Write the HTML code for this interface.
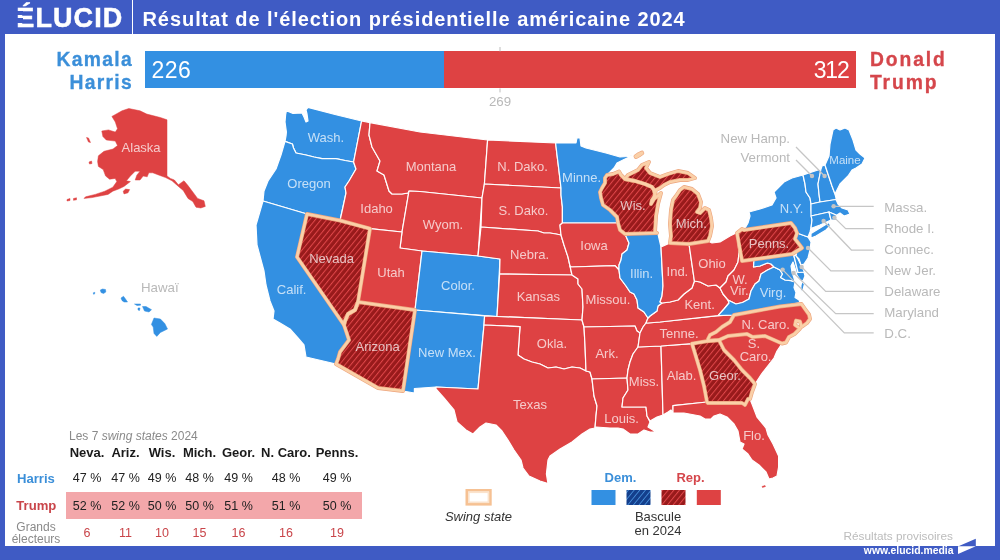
<!DOCTYPE html>
<html lang="fr"><head><meta charset="utf-8"><title>Résultat de l'élection présidentielle américaine 2024</title>
<style>
html,body{margin:0;padding:0}
body{width:1000px;height:560px;position:relative;overflow:hidden;background:#3f5bc4;font-family:"Liberation Sans",sans-serif;}
.panel{position:absolute;left:5px;top:34px;width:990px;height:512px;background:#fff}
.abs{position:absolute;white-space:nowrap;line-height:1}
.logo{left:16.3px;top:2.6px;font-size:27px;font-weight:bold;color:#fff;letter-spacing:1.1px;line-height:30px;-webkit-text-stroke:.5px #fff}
.divider{position:absolute;left:131.5px;top:0;width:1.2px;height:34px;background:#fff}
.title{left:142.5px;top:7.5px;font-size:20px;font-weight:bold;color:#fff;line-height:22px;letter-spacing:.93px}
.cand{font-size:19.3px;font-weight:bold;letter-spacing:1.3px;line-height:23.2px;-webkit-text-stroke:.3px currentColor}
.bar{position:absolute;top:51.4px;height:37px}
.num{font-size:23px;color:#fff;line-height:37px}
svg{position:absolute;left:0;top:0}
.sl{font-size:13px;fill:#fff;fill-opacity:.72;text-anchor:middle}
.gl{font-size:13.3px;fill:#b9b9b9}
.tb{font-size:12.5px;color:#222}
.th{font-weight:bold;font-size:13px;color:#1a1a1a}
.ge{color:#c9454a}
</style></head><body>
<div class="panel"></div>
<div class="abs logo">ÉLUCID</div><div class="divider"></div><div style="position:absolute;left:15px;top:11px;width:8.4px;height:4px;background:#3f5bc4"></div><div style="position:absolute;left:15px;top:18px;width:8.4px;height:5px;background:#3f5bc4"></div>
<div class="abs title">Résultat de l'élection présidentielle américaine 2024</div>
<div class="abs cand" style="right:867px;top:48.2px;text-align:right;color:#3b8fd9">Kamala<br>Harris</div>
<div class="abs cand" style="left:870px;top:48.2px;color:#d5464b;letter-spacing:1.9px">Donald<br>Trump</div>
<div class="bar" style="left:145px;width:298.5px;background:#3390e2"></div>
<div class="bar" style="left:443.5px;width:412px;background:#de4243"></div>
<div class="abs num" style="left:151.5px;top:51.8px;letter-spacing:.5px">226</div>
<div class="abs num" style="right:151.5px;top:51.8px;letter-spacing:-1.2px">312</div>

<svg width="1000" height="560" viewBox="0 0 1000 560" font-family="Liberation Sans, sans-serif">
<defs>
<pattern id="hr" width="4.4" height="4.4" patternUnits="userSpaceOnUse" patternTransform="rotate(39)"><rect width="4.4" height="4.4" fill="#981a1b"/><rect x="0" width="1" height="4.4" fill="#e0474a"/></pattern>
<pattern id="hb" width="4.4" height="4.4" patternUnits="userSpaceOnUse" patternTransform="rotate(39)"><rect width="4.4" height="4.4" fill="#143f8c"/><rect x="0" width="0.8" height="4.4" fill="#4a94e0"/></pattern>
</defs>
<path d="M500 47V51.4M500 88.4V92.4" stroke="#bdbdbd" stroke-width="1"/>
<text x="500" y="105.6" text-anchor="middle" class="gl" fill="#b5b5b5">269</text>
<g stroke="#fff" stroke-width="1.2" stroke-linejoin="round">
<polygon points="286.4,110.6 293.0,113.5 302.0,113.0 304.0,117.0 306.0,122.0 308.0,121.0 307.0,114.0 306.0,110.0 308.0,107.4 335.0,114.5 361.6,121.0 353.6,162.0 345.0,160.5 336.0,158.6 322.0,158.6 314.0,157.0 306.0,155.0 296.0,153.0 293.5,148.0 292.4,144.0 285.0,141.4 286.0,136.0 286.4,132.0 285.0,122.0 285.6,115.0" fill="#3390e2"/>
<polygon points="285.0,141.4 292.4,144.0 293.5,148.0 296.0,153.0 306.0,155.0 314.0,157.0 322.0,158.6 336.0,158.6 345.0,160.5 353.6,162.0 356.0,169.0 349.0,181.0 345.0,187.0 346.0,193.0 343.0,207.0 340.0,220.5 307.0,214.0 263.0,201.0 264.0,191.0 268.0,181.0 276.0,169.0 281.0,155.0" fill="#3390e2"/>
<polygon points="263.0,201.0 307.0,214.0 297.0,257.0 344.0,325.0 349.0,340.0 340.0,352.0 338.0,359.0 336.0,364.0 306.0,357.0 304.0,345.0 298.0,338.0 290.0,329.0 280.0,323.0 273.0,319.0 274.0,311.0 270.0,301.0 266.0,285.0 264.0,271.0 257.0,245.0 256.0,225.0" fill="#3390e2"/>
<polygon points="361.6,121.0 370.0,122.6 369.0,135.0 372.0,147.0 380.0,161.0 377.0,171.0 384.0,175.0 389.0,191.0 392.0,194.0 402.0,194.0 408.0,193.0 409.0,191.0 402.0,232.0 370.0,228.6 340.0,220.5 343.0,207.0 346.0,193.0 345.0,187.0 349.0,181.0 356.0,169.0 353.6,162.0" fill="#de4243"/>
<polygon points="370.0,122.6 420.0,132.0 487.6,140.0 484.4,184.0 482.0,198.0 420.0,191.5 409.0,191.0 408.0,193.0 402.0,194.0 392.0,194.0 389.0,191.0 384.0,175.0 377.0,171.0 380.0,161.0 372.0,147.0 369.0,135.0" fill="#de4243"/>
<polygon points="409.0,191.0 420.0,191.5 482.0,198.0 478.0,256.0 422.0,251.0 400.0,248.0 402.0,232.0" fill="#de4243"/>
<polygon points="370.0,228.6 402.0,232.0 400.0,248.0 422.0,251.0 415.0,310.0 358.0,302.0" fill="#de4243"/>
<polygon points="422.0,251.0 478.0,256.0 500.0,259.0 497.0,316.5 415.0,310.0" fill="#3390e2"/>
<polygon points="415.0,310.0 484.6,315.8 484.0,325.0 478.0,389.0 436.0,387.0 414.4,388.5 414.4,393.0 403.0,391.0" fill="#3390e2"/>
<polygon points="487.6,140.0 555.6,143.0 557.0,155.0 559.0,171.0 561.0,188.0 484.4,184.0" fill="#de4243"/>
<polygon points="484.4,184.0 561.0,188.0 561.0,195.0 562.4,207.0 562.4,223.0 560.0,225.0 561.0,235.0 556.0,234.0 550.0,233.0 544.0,233.0 538.0,231.0 481.0,227.0 482.0,198.0" fill="#de4243"/>
<polygon points="481.0,227.0 538.0,231.0 544.0,233.0 550.0,233.0 556.0,234.0 561.0,235.0 564.0,245.0 568.0,257.0 570.0,266.0 572.0,275.0 499.6,274.0 500.0,259.0 478.0,256.0" fill="#de4243"/>
<polygon points="499.6,274.0 572.0,275.0 578.0,279.0 578.0,284.0 582.0,289.0 583.0,307.0 582.0,320.0 497.0,316.5" fill="#de4243"/>
<polygon points="484.6,315.8 497.0,316.5 582.0,320.0 584.0,327.0 585.0,345.0 586.0,371.0 580.0,368.0 572.0,367.0 564.0,369.0 556.0,367.0 548.0,368.0 540.0,364.0 532.0,362.0 524.0,359.0 518.0,355.0 520.0,326.6 484.0,325.0" fill="#de4243"/>
<polygon points="484.0,325.0 520.0,326.6 518.0,355.0 524.0,359.0 532.0,362.0 540.0,364.0 548.0,368.0 556.0,367.0 564.0,369.0 572.0,367.0 580.0,368.0 586.0,371.0 590.0,372.0 592.0,379.0 594.0,396.0 597.0,406.0 596.0,416.0 595.0,428.0 590.0,429.0 582.0,434.0 572.0,442.0 560.0,449.0 550.0,456.0 548.0,460.0 546.4,474.0 548.0,483.6 540.0,481.0 529.0,476.0 523.0,468.0 521.0,460.0 514.0,450.0 508.0,440.0 502.0,431.0 496.0,425.0 486.0,423.0 480.0,427.0 473.0,434.0 466.0,430.0 457.0,422.0 454.0,410.0 444.0,398.0 436.0,389.0 436.0,387.0 478.0,389.0" fill="#de4243"/>
<polygon points="555.6,143.0 576.0,143.0 577.0,138.0 580.0,138.0 581.0,146.0 586.0,148.0 594.0,150.0 606.0,153.0 620.0,157.0 627.0,156.5 632.5,155.6 624.0,159.5 617.0,163.0 614.0,168.0 610.0,172.0 607.0,175.0 605.0,178.0 605.0,183.0 602.0,188.0 600.0,192.0 601.0,198.0 603.0,205.0 610.0,210.0 617.0,217.0 618.0,223.0 562.4,223.0 562.4,207.0 561.0,195.0 561.0,188.0 559.0,171.0 557.0,155.0" fill="#3390e2"/>
<polygon points="562.4,223.0 618.0,223.0 620.0,230.0 625.0,234.0 629.0,243.0 627.0,250.0 622.0,254.0 621.0,260.0 619.0,265.0 619.0,270.0 615.0,265.6 571.0,267.0 570.0,266.0 568.0,257.0 564.0,245.0 561.0,235.0 560.0,225.0" fill="#de4243"/>
<polygon points="571.0,267.0 615.0,265.6 619.0,270.0 620.0,278.0 626.0,286.0 630.0,292.0 634.0,294.0 637.0,300.0 638.0,308.0 644.0,312.0 648.0,318.0 646.0,323.0 643.0,327.0 640.0,333.0 637.0,331.0 635.0,326.0 584.0,327.0 582.0,320.0 583.0,307.0 582.0,289.0 578.0,284.0 578.0,279.0 572.0,275.0 570.0,266.0" fill="#de4243"/>
<polygon points="584.0,327.0 635.0,326.0 637.0,331.0 640.0,333.0 639.0,340.0 638.0,347.0 633.0,354.0 630.0,362.0 628.0,370.0 627.0,378.0 592.0,379.0 590.0,372.0 586.0,371.0 585.0,345.0" fill="#de4243"/>
<polygon points="592.0,379.0 627.0,378.0 628.0,390.0 623.0,398.0 622.0,407.0 646.0,407.0 647.0,416.0 650.0,422.0 648.0,427.0 656.0,432.0 650.0,432.0 644.0,430.0 638.0,434.0 630.0,434.0 623.0,429.0 618.0,428.0 610.0,428.0 596.0,427.0 595.0,428.0 596.0,416.0 597.0,406.0 594.0,396.0" fill="#de4243"/>
<polygon points="638.0,347.0 661.0,346.0 663.0,415.0 657.0,417.0 650.0,421.0 647.0,416.0 646.0,407.0 622.0,407.0 623.0,398.0 628.0,390.0 627.0,378.0 628.0,370.0 630.0,362.0 633.0,354.0" fill="#de4243"/>
<polygon points="661.0,346.0 692.0,343.6 700.0,370.0 704.0,386.0 707.0,402.0 673.0,405.6 673.0,413.0 671.0,410.0 668.0,412.0 663.0,415.0" fill="#de4243"/>
<polygon points="673.0,405.6 707.0,402.0 708.0,403.0 742.0,403.0 745.0,405.0 748.0,399.0 750.0,399.0 752.0,404.0 757.0,417.0 766.0,428.0 768.0,435.0 773.0,444.0 778.6,456.0 778.6,467.0 777.0,476.0 773.0,478.0 769.0,479.0 766.0,472.0 759.0,465.0 752.0,460.0 748.0,454.0 742.0,449.0 744.0,444.0 740.0,442.0 738.0,431.0 734.0,424.0 727.0,417.0 720.0,414.0 714.0,416.0 711.0,419.0 705.0,419.0 700.0,416.0 684.0,413.0 673.0,413.0" fill="#de4243"/>
<polygon points="643.0,327.0 646.0,323.0 648.0,323.0 660.0,322.0 718.0,315.6 734.0,315.0 730.0,322.0 722.0,327.0 716.0,332.0 710.0,335.0 708.0,339.0 708.0,341.0 692.0,343.6 661.0,346.0 638.0,347.0 639.0,340.0 640.0,333.0" fill="#de4243"/>
<polygon points="648.0,318.0 650.0,316.0 657.0,311.0 658.0,306.0 662.0,303.0 670.0,302.0 678.0,300.0 684.0,294.0 692.0,288.0 694.4,281.0 700.0,282.0 708.0,286.0 716.0,285.0 720.0,288.0 723.0,294.0 728.0,300.0 729.0,303.0 724.0,309.0 718.0,315.6 660.0,322.0 648.0,323.0 646.0,323.0" fill="#de4243"/>
<polygon points="625.0,234.0 657.0,233.0 658.0,234.0 661.0,247.0 663.0,286.0 662.0,296.0 660.0,302.0 662.0,303.0 658.0,306.0 657.0,311.0 650.0,316.0 648.0,318.0 644.0,312.0 638.0,308.0 637.0,300.0 634.0,294.0 630.0,292.0 626.0,286.0 620.0,278.0 619.0,270.0 619.0,265.0 621.0,260.0 622.0,254.0 627.0,250.0 629.0,243.0" fill="#3390e2"/>
<polygon points="661.0,247.0 670.0,243.0 689.0,244.0 694.4,281.0 692.0,288.0 684.0,294.0 678.0,300.0 670.0,302.0 662.0,303.0 660.0,302.0 662.0,296.0 663.0,286.0" fill="#de4243"/>
<polygon points="689.0,244.0 708.0,241.0 712.0,243.0 720.0,242.0 730.0,236.0 736.0,233.0 737.0,233.0 739.0,253.0 738.0,262.0 734.0,270.0 728.0,276.0 726.0,282.0 720.0,288.0 716.0,285.0 708.0,286.0 700.0,282.0 694.4,281.0" fill="#de4243"/>
<polygon points="739.0,253.0 742.0,261.0 754.0,260.0 753.5,267.0 760.0,266.0 767.5,263.0 771.0,264.0 774.0,267.0 767.5,270.0 761.0,274.0 759.0,281.0 755.0,284.0 751.0,291.0 749.0,299.0 742.5,302.5 736.0,304.0 730.0,301.0 728.0,300.0 723.0,294.0 720.0,288.0 726.0,282.0 728.0,276.0 734.0,270.0 738.0,262.0" fill="#de4243"/>
<polygon points="774.0,267.0 780.0,270.0 782.5,274.0 780.6,277.5 785.0,280.0 791.0,280.6 795.0,282.0 794.0,287.5 796.0,292.5 795.0,297.5 799.0,300.0 800.0,302.5 780.0,306.5 734.0,315.0 718.0,315.6 724.0,309.0 729.0,303.0 728.0,300.0 730.0,301.0 736.0,304.0 742.5,302.5 749.0,299.0 751.0,291.0 755.0,284.0 759.0,281.0 761.0,274.0 767.5,270.0" fill="#3390e2"/>
<polygon points="802.0,281.5 804.5,284.0 803.0,290.0 800.6,291.5 801.0,285.0" fill="#3390e2"/>
<polygon points="754.0,260.0 792.0,254.0 794.0,256.0 798.0,272.5 804.0,272.0 805.0,276.0 803.0,281.0 800.0,280.0 797.0,275.0 795.0,268.0 793.0,262.0 791.0,266.0 792.0,272.0 794.0,278.0 795.0,282.0 791.0,280.6 785.0,280.0 780.6,277.5 782.5,274.0 780.0,270.0 774.0,267.0 771.0,264.0 767.5,263.0 760.0,266.0 753.5,267.0" fill="#3390e2"/>
<polygon points="794.0,256.0 796.0,255.0 798.0,259.0 801.0,265.0 804.0,271.0 804.0,272.0 798.0,272.5" fill="#3390e2"/>
<polygon points="797.0,233.0 808.0,237.0 811.0,242.0 810.0,250.0 808.0,258.0 804.0,264.0 801.0,265.0 799.0,259.0 796.0,256.0 797.0,251.0 802.0,248.0 799.0,244.0 795.0,239.0" fill="#3390e2"/>
<polygon points="744.0,230.0 748.0,223.0 750.0,216.0 749.0,212.0 760.0,209.0 772.0,205.0 776.0,198.0 774.0,192.0 778.0,188.0 784.0,182.0 792.0,178.0 803.0,175.0 805.0,184.0 806.0,192.0 810.0,198.0 811.0,204.0 811.0,210.0 812.0,220.0 811.0,228.0 810.0,232.0 808.0,237.0 797.0,233.0 795.0,228.0 791.0,223.0" fill="#3390e2"/>
<polygon points="811.0,233.5 820.0,228.0 829.0,222.5 830.5,225.5 826.0,230.0 816.0,236.0 811.0,238.0" fill="#3390e2"/>
<polygon points="803.0,175.0 821.0,169.0 820.0,174.0 818.0,184.0 819.0,194.0 820.0,202.0 811.0,204.0 810.0,198.0 806.0,192.0 805.0,184.0" fill="#3390e2"/>
<polygon points="821.0,169.0 822.0,166.0 825.0,165.0 828.0,174.0 832.0,186.0 835.0,194.0 836.0,198.0 836.0,199.5 820.0,202.0 819.0,194.0 818.0,184.0 820.0,174.0" fill="#3390e2"/>
<polygon points="825.0,165.0 829.0,156.0 830.0,144.0 833.0,130.0 836.0,128.0 840.0,130.0 845.0,128.0 849.0,130.0 853.0,140.0 856.0,150.0 860.0,154.0 865.0,158.0 862.0,164.0 856.0,168.0 852.0,170.0 848.0,176.0 844.0,180.0 840.0,184.0 837.0,190.0 835.0,194.0 832.0,186.0 828.0,174.0" fill="#3390e2"/>
<polygon points="811.0,204.0 820.0,202.0 836.0,199.5 838.0,204.0 842.0,208.0 848.0,210.0 850.0,214.0 844.0,216.0 840.0,213.0 837.0,215.0 836.0,215.0 829.0,212.0 811.0,216.0 811.0,210.0" fill="#3390e2"/>
<polygon points="811.0,216.0 829.0,212.0 831.0,220.0 820.0,225.0 812.0,228.0 811.0,228.0 812.0,220.0" fill="#3390e2"/>
<polygon points="829.0,212.0 836.0,215.0 837.0,220.0 831.0,220.0" fill="#3390e2"/>
<polygon points="719.0,340.0 728.0,336.0 747.0,334.0 752.5,337.0 765.0,336.0 782.0,343.5 777.0,351.0 774.0,358.0 768.5,365.0 761.5,374.0 757.0,381.0 755.0,384.0 750.0,378.0 742.0,370.0 734.0,360.0 724.0,350.0" fill="#de4243"/>
<polygon points="111.9,116.4 122.0,110.8 128.8,108.5 140.0,110.8 146.8,114.1 160.3,117.5 167.0,119.8 167.0,176.0 170.4,178.4 174.4,180.0 178.4,184.8 181.6,182.4 184.0,180.8 188.0,185.6 192.8,192.0 197.6,198.4 204.0,200.8 205.3,206.4 200.8,208.0 196.0,207.2 192.8,201.6 188.0,198.4 183.2,190.4 178.4,186.4 172.0,180.8 165.6,177.6 159.2,175.2 152.8,172.8 148.8,172.8 147.2,176.8 143.2,176.0 140.0,180.0 135.2,180.0 136.8,175.2 140.0,171.2 135.2,171.2 130.4,176.0 126.4,180.8 130.4,181.6 124.0,186.4 119.2,188.8 112.8,191.2 108.0,194.4 100.0,196.0 92.0,197.6 84.0,198.4 85.6,196.8 95.2,194.4 104.8,191.2 112.8,187.2 116.8,181.6 115.2,178.4 109.6,179.2 105.6,176.0 103.2,169.6 98.4,166.4 97.6,161.6 98.4,155.8 104.0,151.3 113.0,149.0 117.5,145.6 115.3,141.1 106.3,140.0 102.9,136.6 101.8,131.0 108.5,129.9 115.3,132.1 117.5,128.8 115.3,122.0" fill="#de4243" stroke="#de4243" stroke-width="0.5"/>
<polygon points="123.2,191.2 125.6,189.1 129.6,189.6 128.0,192.8 124.0,193.9" fill="#de4243" stroke="#de4243" stroke-width="0.5"/>
<polygon points="86.5,137.5 88.5,138.0 90.5,142.5 88.5,142.0" fill="#de4243" stroke="#de4243" stroke-width="0.5"/>
<polygon points="89.0,162.0 91.5,161.0 92.0,163.5 89.5,164.0" fill="#de4243" stroke="#de4243" stroke-width="0.5"/>
<polygon points="67.0,199.5 70.0,198.5 70.0,200.5 67.0,201.0" fill="#de4243" stroke="#de4243" stroke-width="0.5"/>
<polygon points="73.5,198.5 76.5,197.8 76.5,199.8 73.5,200.3" fill="#de4243" stroke="#de4243" stroke-width="0.5"/>
<polygon points="762.0,486.5 765.0,485.5 765.5,486.5 762.5,487.5" fill="#de4243" stroke="#de4243" stroke-width="0.5"/>
<polygon points="100.3,290.0 102.5,289.0 105.5,289.5 105.8,292.0 103.5,293.5 101.0,292.5" fill="#3390e2" stroke="#3390e2" stroke-width="0.5"/>
<polygon points="121.0,298.0 123.5,296.3 125.5,299.0 127.5,302.0 124.0,302.0 122.0,300.5" fill="#3390e2" stroke="#3390e2" stroke-width="0.5"/>
<polygon points="134.5,304.0 140.5,304.0 140.5,305.2 137.0,305.5" fill="#3390e2" stroke="#3390e2" stroke-width="0.5"/>
<polygon points="138.0,308.0 140.0,308.0 139.5,310.5 138.0,310.0" fill="#3390e2" stroke="#3390e2" stroke-width="0.5"/>
<polygon points="142.5,306.5 146.0,306.5 151.5,309.7 149.0,312.0 144.5,311.0" fill="#3390e2" stroke="#3390e2" stroke-width="0.5"/>
<polygon points="154.0,318.0 160.4,319.0 164.8,323.6 167.5,329.0 160.4,332.5 156.8,336.4 154.0,333.4 153.2,327.0 151.4,324.5" fill="#3390e2" stroke="#3390e2" stroke-width="0.5"/>
<polygon points="93.3,292.8 94.8,292.3 94.6,294.0 93.5,294.2" fill="#3390e2" stroke="#3390e2" stroke-width="0.5"/>
</g>
<g stroke="none">
<polygon points="307.0,214.0 340.0,220.5 370.0,228.6 358.0,302.0 355.0,310.0 348.0,314.0 345.0,321.0 344.0,325.0 297.0,257.0" fill="url(#hr)"/>
<polygon points="358.0,302.0 415.0,310.0 403.0,391.0 378.0,388.0 336.0,364.0 338.0,359.0 340.0,352.0 349.0,340.0 344.0,325.0 345.0,321.0 348.0,314.0 355.0,310.0" fill="url(#hr)"/>
<polygon points="607.0,175.0 613.0,174.0 619.0,171.5 621.0,175.0 625.0,179.0 635.0,181.0 645.0,184.0 652.0,187.0 654.0,190.0 655.0,194.0 654.0,197.0 652.0,200.0 651.0,204.0 654.0,199.0 661.0,193.0 658.0,204.0 656.0,216.0 655.0,232.0 657.0,233.0 625.0,234.0 620.0,230.0 618.0,223.0 617.0,217.0 610.0,210.0 603.0,205.0 601.0,198.0 600.0,192.0 602.0,188.0 605.0,183.0 605.0,178.0" fill="url(#hr)"/>
<polygon points="625.0,179.0 628.0,175.0 638.0,170.0 642.0,165.0 649.0,162.0 646.0,168.0 650.0,173.0 660.0,177.0 668.0,174.0 678.0,171.0 688.0,173.0 695.0,178.0 688.0,180.0 680.0,180.0 670.0,182.0 664.0,185.0 660.0,188.0 656.0,190.0 655.0,194.0 654.0,190.0 652.0,187.0 645.0,184.0 635.0,181.0" fill="url(#hr)"/>
<polygon points="684.0,187.0 680.0,190.0 676.0,196.0 673.0,200.0 671.0,210.0 670.0,224.0 671.0,236.0 670.0,243.0 689.0,244.0 708.0,241.0 710.0,236.0 712.0,226.0 711.0,218.0 709.0,210.0 705.0,208.0 700.0,213.0 697.0,212.0 700.0,208.0 701.0,202.0 698.0,194.0 692.0,189.0" fill="url(#hr)"/>
<polygon points="635.5,156.3 639.0,154.0 642.0,152.6 642.3,153.2 639.5,155.0 636.0,157.0" fill="url(#hr)"/>
<polygon points="737.0,233.0 742.0,229.0 744.0,230.0 791.0,223.0 795.0,228.0 797.0,233.0 795.0,239.0 799.0,244.0 802.0,248.0 797.0,251.0 792.0,254.0 742.0,261.0" fill="url(#hr)"/>
<polygon points="734.0,315.0 780.0,306.5 801.5,304.0 805.0,309.0 809.0,314.5 810.0,319.0 807.0,323.0 801.5,327.0 800.0,321.5 796.0,320.6 795.0,325.0 800.0,328.5 794.5,334.0 789.0,337.0 786.0,342.5 782.0,343.5 765.0,336.0 752.5,337.0 747.0,334.0 728.0,336.0 719.0,340.0 708.0,341.0 708.0,339.0 710.0,335.0 716.0,332.0 722.0,327.0 730.0,322.0" fill="#de4243"/>
<polygon points="692.0,343.6 708.0,341.0 719.0,340.0 724.0,350.0 734.0,360.0 742.0,370.0 750.0,378.0 755.0,384.0 752.0,392.0 750.0,399.0 748.0,399.0 745.0,405.0 742.0,403.0 708.0,403.0 707.0,402.0 704.0,386.0 700.0,370.0" fill="url(#hr)"/>
</g>
<g fill="none" stroke="#eda57e" stroke-width="3.9" stroke-linejoin="round">
<polygon points="307.0,214.0 340.0,220.5 370.0,228.6 358.0,302.0 355.0,310.0 348.0,314.0 345.0,321.0 344.0,325.0 297.0,257.0"/>
<polygon points="358.0,302.0 415.0,310.0 403.0,391.0 378.0,388.0 336.0,364.0 338.0,359.0 340.0,352.0 349.0,340.0 344.0,325.0 345.0,321.0 348.0,314.0 355.0,310.0"/>
<polygon points="607.0,175.0 613.0,174.0 619.0,171.5 621.0,175.0 625.0,179.0 635.0,181.0 645.0,184.0 652.0,187.0 654.0,190.0 655.0,194.0 654.0,197.0 652.0,200.0 651.0,204.0 654.0,199.0 661.0,193.0 658.0,204.0 656.0,216.0 655.0,232.0 657.0,233.0 625.0,234.0 620.0,230.0 618.0,223.0 617.0,217.0 610.0,210.0 603.0,205.0 601.0,198.0 600.0,192.0 602.0,188.0 605.0,183.0 605.0,178.0"/>
<polygon points="625.0,179.0 628.0,175.0 638.0,170.0 642.0,165.0 649.0,162.0 646.0,168.0 650.0,173.0 660.0,177.0 668.0,174.0 678.0,171.0 688.0,173.0 695.0,178.0 688.0,180.0 680.0,180.0 670.0,182.0 664.0,185.0 660.0,188.0 656.0,190.0 655.0,194.0 654.0,190.0 652.0,187.0 645.0,184.0 635.0,181.0"/>
<polygon points="684.0,187.0 680.0,190.0 676.0,196.0 673.0,200.0 671.0,210.0 670.0,224.0 671.0,236.0 670.0,243.0 689.0,244.0 708.0,241.0 710.0,236.0 712.0,226.0 711.0,218.0 709.0,210.0 705.0,208.0 700.0,213.0 697.0,212.0 700.0,208.0 701.0,202.0 698.0,194.0 692.0,189.0"/>
<polygon points="635.5,156.3 639.0,154.0 642.0,152.6 642.3,153.2 639.5,155.0 636.0,157.0"/>
<polygon points="737.0,233.0 742.0,229.0 744.0,230.0 791.0,223.0 795.0,228.0 797.0,233.0 795.0,239.0 799.0,244.0 802.0,248.0 797.0,251.0 792.0,254.0 742.0,261.0"/>
<polygon points="734.0,315.0 780.0,306.5 801.5,304.0 805.0,309.0 809.0,314.5 810.0,319.0 807.0,323.0 801.5,327.0 800.0,321.5 796.0,320.6 795.0,325.0 800.0,328.5 794.5,334.0 789.0,337.0 786.0,342.5 782.0,343.5 765.0,336.0 752.5,337.0 747.0,334.0 728.0,336.0 719.0,340.0 708.0,341.0 708.0,339.0 710.0,335.0 716.0,332.0 722.0,327.0 730.0,322.0"/>
<polygon points="692.0,343.6 708.0,341.0 719.0,340.0 724.0,350.0 734.0,360.0 742.0,370.0 750.0,378.0 755.0,384.0 752.0,392.0 750.0,399.0 748.0,399.0 745.0,405.0 742.0,403.0 708.0,403.0 707.0,402.0 704.0,386.0 700.0,370.0"/>
</g>
<g fill="none" stroke="#fad0a8" stroke-width="2.7" stroke-linejoin="round">
<polygon points="307.0,214.0 340.0,220.5 370.0,228.6 358.0,302.0 355.0,310.0 348.0,314.0 345.0,321.0 344.0,325.0 297.0,257.0"/>
<polygon points="358.0,302.0 415.0,310.0 403.0,391.0 378.0,388.0 336.0,364.0 338.0,359.0 340.0,352.0 349.0,340.0 344.0,325.0 345.0,321.0 348.0,314.0 355.0,310.0"/>
<polygon points="607.0,175.0 613.0,174.0 619.0,171.5 621.0,175.0 625.0,179.0 635.0,181.0 645.0,184.0 652.0,187.0 654.0,190.0 655.0,194.0 654.0,197.0 652.0,200.0 651.0,204.0 654.0,199.0 661.0,193.0 658.0,204.0 656.0,216.0 655.0,232.0 657.0,233.0 625.0,234.0 620.0,230.0 618.0,223.0 617.0,217.0 610.0,210.0 603.0,205.0 601.0,198.0 600.0,192.0 602.0,188.0 605.0,183.0 605.0,178.0"/>
<polygon points="625.0,179.0 628.0,175.0 638.0,170.0 642.0,165.0 649.0,162.0 646.0,168.0 650.0,173.0 660.0,177.0 668.0,174.0 678.0,171.0 688.0,173.0 695.0,178.0 688.0,180.0 680.0,180.0 670.0,182.0 664.0,185.0 660.0,188.0 656.0,190.0 655.0,194.0 654.0,190.0 652.0,187.0 645.0,184.0 635.0,181.0"/>
<polygon points="684.0,187.0 680.0,190.0 676.0,196.0 673.0,200.0 671.0,210.0 670.0,224.0 671.0,236.0 670.0,243.0 689.0,244.0 708.0,241.0 710.0,236.0 712.0,226.0 711.0,218.0 709.0,210.0 705.0,208.0 700.0,213.0 697.0,212.0 700.0,208.0 701.0,202.0 698.0,194.0 692.0,189.0"/>
<polygon points="635.5,156.3 639.0,154.0 642.0,152.6 642.3,153.2 639.5,155.0 636.0,157.0"/>
<polygon points="737.0,233.0 742.0,229.0 744.0,230.0 791.0,223.0 795.0,228.0 797.0,233.0 795.0,239.0 799.0,244.0 802.0,248.0 797.0,251.0 792.0,254.0 742.0,261.0"/>
<polygon points="734.0,315.0 780.0,306.5 801.5,304.0 805.0,309.0 809.0,314.5 810.0,319.0 807.0,323.0 801.5,327.0 800.0,321.5 796.0,320.6 795.0,325.0 800.0,328.5 794.5,334.0 789.0,337.0 786.0,342.5 782.0,343.5 765.0,336.0 752.5,337.0 747.0,334.0 728.0,336.0 719.0,340.0 708.0,341.0 708.0,339.0 710.0,335.0 716.0,332.0 722.0,327.0 730.0,322.0"/>
<polygon points="692.0,343.6 708.0,341.0 719.0,340.0 724.0,350.0 734.0,360.0 742.0,370.0 750.0,378.0 755.0,384.0 752.0,392.0 750.0,399.0 748.0,399.0 745.0,405.0 742.0,403.0 708.0,403.0 707.0,402.0 704.0,386.0 700.0,370.0"/>
</g>
<g fill="none" stroke="#c6c6c6" stroke-width="1.25">
<path d="M796 147L824.6 176M796 160L812 176M833.6 206.3H873.7M834.4 217.6L845.7 228.6H873.7M823.6 221L851.4 250H873.7M808 248L830.9 270.9H873.7M801.6 267L825.7 291.4H873.7M793.6 273L835.7 313.7H873.7M782.6 269.6L844.3 332.9H873.7"/>
</g>
<g fill="#c4c4c4">
<circle cx="812" cy="176" r="2.2"/>
<circle cx="824.6" cy="176" r="2.2"/>
<circle cx="833.6" cy="206.3" r="2.2"/>
<circle cx="834.4" cy="217.6" r="2.2"/>
<circle cx="823.6" cy="221" r="2.2"/>
<circle cx="808" cy="248" r="2.2"/>
<circle cx="801.6" cy="267" r="2.2"/>
<circle cx="793.6" cy="273" r="2.2"/>
<circle cx="782.6" cy="269.6" r="2.2"/>
</g>
<text x="326" y="142" class="sl">Wash.</text>
<text x="309" y="187.5" class="sl">Oregon</text>
<text x="291.6" y="293.5" class="sl">Calif.</text>
<text x="331.6" y="262.5" class="sl">Nevada</text>
<text x="376.6" y="212.5" class="sl">Idaho</text>
<text x="431" y="170.5" class="sl">Montana</text>
<text x="443" y="228.5" class="sl">Wyom.</text>
<text x="391" y="276.5" class="sl">Utah</text>
<text x="377.6" y="351" class="sl">Arizona</text>
<text x="458" y="289.5" class="sl">Color.</text>
<text x="447" y="357" class="sl">New Mex.</text>
<text x="522.6" y="170.5" class="sl">N. Dako.</text>
<text x="523.4" y="215" class="sl">S. Dako.</text>
<text x="529.6" y="258.5" class="sl">Nebra.</text>
<text x="538.4" y="301" class="sl">Kansas</text>
<text x="552" y="348" class="sl">Okla.</text>
<text x="530" y="408.5" class="sl">Texas</text>
<text x="581.6" y="182" class="sl">Minne.</text>
<text x="594" y="249.5" class="sl">Iowa</text>
<text x="608" y="303.5" class="sl">Missou.</text>
<text x="607" y="357.5" class="sl">Ark.</text>
<text x="621.6" y="422.5" class="sl">Louis.</text>
<text x="633" y="210" class="sl">Wis.</text>
<text x="641.6" y="277.5" class="sl">Illin.</text>
<text x="691.4" y="227.5" class="sl">Mich.</text>
<text x="677.4" y="275.5" class="sl">Ind.</text>
<text x="712" y="267.5" class="sl">Ohio</text>
<text x="699.6" y="309" class="sl">Kent.</text>
<text x="679" y="337.5" class="sl">Tenne.</text>
<text x="644" y="385.5" class="sl">Miss.</text>
<text x="681.6" y="379.5" class="sl">Alab.</text>
<text x="725" y="379.5" class="sl">Geor.</text>
<text x="754" y="440" class="sl">Flo.</text>
<text x="754" y="348" class="sl">S.</text>
<text x="755.6" y="360.5" class="sl">Caro.</text>
<text x="765.6" y="328.5" class="sl">N. Caro.</text>
<text x="773" y="296.5" class="sl">Virg.</text>
<text x="740" y="283.5" class="sl">W.</text>
<text x="739.4" y="295" class="sl">Vir.</text>
<text x="769" y="248" class="sl">Penns.</text>
<text x="791.6" y="213" class="sl">N.Y.</text>
<text x="141.1" y="151.5" class="sl">Alaska</text>
<text x="845" y="163.5" class="sl" style="font-size:11.5px">Maine</text>
<text x="790" y="143" class="gl" text-anchor="end">New Hamp.</text>
<text x="790" y="162" class="gl" text-anchor="end">Vermont</text>
<text x="884.3" y="212.3" class="gl">Massa.</text>
<text x="884.3" y="232.9" class="gl">Rhode I.</text>
<text x="884.3" y="254.3" class="gl">Connec.</text>
<text x="884.3" y="275.1" class="gl">New Jer.</text>
<text x="884.3" y="295.7" class="gl">Delaware</text>
<text x="884.3" y="316.6" class="gl">Maryland</text>
<text x="884.3" y="338" class="gl">D.C.</text>
<text x="141" y="292.3" class="gl">Hawaï</text>
<rect x="591.5" y="490" width="24" height="15" fill="#3390e2"/>
<rect x="626.5" y="490" width="24" height="15" fill="url(#hb)"/>
<rect x="661.5" y="490" width="24" height="15" fill="url(#hr)"/>
<rect x="696.8" y="490" width="24" height="15" fill="#de4243"/>
<rect x="466.8" y="490.3" width="23.6" height="14" fill="#fff" stroke="#f6c193" stroke-width="2.6"/>
<rect x="468.8" y="492.3" width="19.6" height="10" fill="none" stroke="#fbe3cd" stroke-width="1.6"/>
<text x="620.5" y="482" text-anchor="middle" font-size="13" font-weight="bold" fill="#3b8fd9">Dem.</text>
<text x="690.5" y="482" text-anchor="middle" font-size="13" font-weight="bold" fill="#d5464b">Rep.</text>
<text x="658" y="521" text-anchor="middle" font-size="13" fill="#333">Bascule</text>
<text x="658" y="535" text-anchor="middle" font-size="13" fill="#333">en 2024</text>
<text x="478.5" y="520.5" text-anchor="middle" font-size="13" font-style="italic" fill="#333">Swing state</text>
<polygon points="975.8,538.7 975.8,546 959,546" fill="#3f5bc4"/>
<polygon points="958,546.3 975.8,546.3 958,554" fill="#fff"/>
</svg>
<div class="abs" style="left:69px;top:430px;font-size:12px;color:#8a8a8a">Les 7 <i>swing states</i> 2024</div>
<div style="position:absolute;left:66px;top:492px;width:295.5px;height:26.5px;background:#f3a7aa"></div>
<div class="abs th" style="left:87px;top:446.3px;transform:translateX(-50%)">Neva.</div>
<div class="abs tb" style="left:87px;top:472px;transform:translateX(-50%)">47 %</div>
<div class="abs tb" style="left:87px;top:499.5px;transform:translateX(-50%)">52 %</div>
<div class="abs tb ge" style="left:87px;top:526.5px;transform:translateX(-50%)">6</div>
<div class="abs th" style="left:125.5px;top:446.3px;transform:translateX(-50%)">Ariz.</div>
<div class="abs tb" style="left:125.5px;top:472px;transform:translateX(-50%)">47 %</div>
<div class="abs tb" style="left:125.5px;top:499.5px;transform:translateX(-50%)">52 %</div>
<div class="abs tb ge" style="left:125.5px;top:526.5px;transform:translateX(-50%)">11</div>
<div class="abs th" style="left:162px;top:446.3px;transform:translateX(-50%)">Wis.</div>
<div class="abs tb" style="left:162px;top:472px;transform:translateX(-50%)">49 %</div>
<div class="abs tb" style="left:162px;top:499.5px;transform:translateX(-50%)">50 %</div>
<div class="abs tb ge" style="left:162px;top:526.5px;transform:translateX(-50%)">10</div>
<div class="abs th" style="left:199.5px;top:446.3px;transform:translateX(-50%)">Mich.</div>
<div class="abs tb" style="left:199.5px;top:472px;transform:translateX(-50%)">48 %</div>
<div class="abs tb" style="left:199.5px;top:499.5px;transform:translateX(-50%)">50 %</div>
<div class="abs tb ge" style="left:199.5px;top:526.5px;transform:translateX(-50%)">15</div>
<div class="abs th" style="left:238.5px;top:446.3px;transform:translateX(-50%)">Geor.</div>
<div class="abs tb" style="left:238.5px;top:472px;transform:translateX(-50%)">49 %</div>
<div class="abs tb" style="left:238.5px;top:499.5px;transform:translateX(-50%)">51 %</div>
<div class="abs tb ge" style="left:238.5px;top:526.5px;transform:translateX(-50%)">16</div>
<div class="abs th" style="left:286px;top:446.3px;transform:translateX(-50%)">N. Caro.</div>
<div class="abs tb" style="left:286px;top:472px;transform:translateX(-50%)">48 %</div>
<div class="abs tb" style="left:286px;top:499.5px;transform:translateX(-50%)">51 %</div>
<div class="abs tb ge" style="left:286px;top:526.5px;transform:translateX(-50%)">16</div>
<div class="abs th" style="left:337px;top:446.3px;transform:translateX(-50%)">Penns.</div>
<div class="abs tb" style="left:337px;top:472px;transform:translateX(-50%)">49 %</div>
<div class="abs tb" style="left:337px;top:499.5px;transform:translateX(-50%)">50 %</div>
<div class="abs tb ge" style="left:337px;top:526.5px;transform:translateX(-50%)">19</div>
<div class="abs" style="left:17px;top:471.8px;font-size:13.1px;font-weight:bold;color:#3b8fd9">Harris</div>
<div class="abs" style="left:16.3px;top:499.2px;font-size:13.1px;font-weight:bold;color:#c9454a">Trump</div>
<div class="abs" style="left:10px;top:520.5px;width:52px;text-align:center;font-size:12px;line-height:12px;color:#8a8a8a;white-space:normal">Grands électeurs</div>
<div class="abs" style="right:47px;top:530.8px;font-size:11.8px;color:#bcbcbc">Résultats provisoires</div>
<div class="abs" style="right:46.5px;top:545.5px;font-size:10.4px;font-weight:bold;color:#fff">www.elucid.media</div>
</body></html>
